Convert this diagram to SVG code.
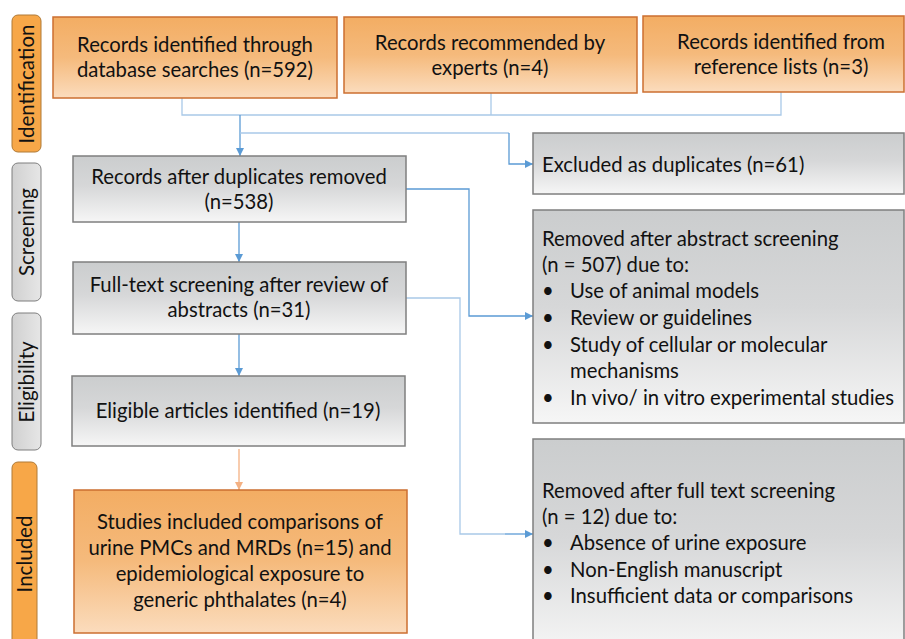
<svg xmlns="http://www.w3.org/2000/svg" width="905" height="639" viewBox="0 0 905 639">
<defs>
<linearGradient id="gOr" x1="0" y1="0" x2="0" y2="1">
<stop offset="0" stop-color="#f3ad63"/>
<stop offset="0.5" stop-color="#f5ba7c"/>
<stop offset="1" stop-color="#fbdcbd"/>
</linearGradient>
<linearGradient id="gGr" x1="0" y1="0" x2="0" y2="1">
<stop offset="0" stop-color="#cbcdce"/>
<stop offset="0.45" stop-color="#d6d7d8"/>
<stop offset="1" stop-color="#f6f6f6"/>
</linearGradient>
<linearGradient id="gLab" x1="0" y1="0" x2="1" y2="0">
<stop offset="0" stop-color="#d0d0d0"/>
<stop offset="1" stop-color="#e6e6e6"/>
</linearGradient>
<marker id="aB" viewBox="0 0 10 10" refX="10" refY="5" markerWidth="8" markerHeight="8" markerUnits="userSpaceOnUse" orient="auto">
<path d="M0,0 L10,5 L0,10 z" fill="#5b9bd5"/>
</marker>
<marker id="aO" viewBox="0 0 10 10" refX="10" refY="5" markerWidth="8" markerHeight="8" markerUnits="userSpaceOnUse" orient="auto">
<path d="M0,0 L10,5 L0,10 z" fill="#f4b183"/>
</marker>
</defs>
<style>
text{font-family:Lato,"Liberation Sans",sans-serif;font-size:20.3px;fill:#111}
.c{text-anchor:middle}
.or{fill:url(#gOr);stroke:#cc6f30;stroke-width:1.5}
.gr{fill:url(#gGr);stroke:#7f7f7f;stroke-width:1.5}
.lo{fill:#f7a748;stroke:#b07a36;stroke-width:1}
.lg{fill:url(#gLab);stroke:#7f7f7f;stroke-width:1}
.lab{font-size:20.5px;text-anchor:middle}
.ln{fill:none;stroke-width:1.3}
</style>
<rect width="905" height="639" fill="#ffffff"/>

<g id="connectors">
<polyline class="ln" stroke="#a9c9e8" points="182,98 182,115 781,115 781,92"/>
<line class="ln" stroke="#a9c9e8" x1="491" y1="93" x2="491" y2="115"/>
<line class="ln" stroke="#5b9bd5" x1="240" y1="115" x2="240" y2="156" marker-end="url(#aB)"/>
<polyline class="ln" stroke="#a9c9e8" points="240,133 509,133"/>
<polyline class="ln" stroke="#5b9bd5" points="509,133 509,164 533,164" marker-end="url(#aB)"/>
<line class="ln" stroke="#5b9bd5" x1="239" y1="222" x2="239" y2="262" marker-end="url(#aB)"/>
<polyline class="ln" stroke="#5b9bd5" points="406,189 469,189 469,316 533,316" marker-end="url(#aB)"/>
<line class="ln" stroke="#5b9bd5" x1="239" y1="334" x2="239" y2="376" marker-end="url(#aB)"/>
<polyline class="ln" stroke="#a9c9e8" points="406,298 460,298 460,534 505,534"/>
<line class="ln" stroke="#5b9bd5" x1="505" y1="534" x2="533" y2="534" marker-end="url(#aB)"/>
<line class="ln" stroke="#f4b183" x1="239" y1="449" x2="239" y2="490" marker-end="url(#aO)"/>
</g>

<g id="label-identification">
<rect class="lo" x="12" y="15" width="29" height="137" rx="6"/>
<text class="lab" transform="translate(34,84) rotate(-90)">Identification</text>
</g>
<g id="label-screening">
<rect class="lg" x="12" y="163" width="29" height="138" rx="6"/>
<text class="lab" transform="translate(34,232) rotate(-90)">Screening</text>
</g>
<g id="label-eligibility">
<rect class="lg" x="12" y="313" width="29" height="137" rx="6"/>
<text class="lab" transform="translate(34,382) rotate(-90)">Eligibility</text>
</g>
<g id="label-included">
<rect class="lo" x="12" y="462" width="25" height="190" rx="6"/>
<text class="lab" transform="translate(32,554) rotate(-90)">Included</text>
</g>

<g id="n-database">
<rect class="or" x="53" y="17" width="284" height="81"/>
<text class="c" x="195" y="52">Records identified through</text>
<text class="c" x="195" y="77">database searches (n=592)</text>
</g>
<g id="n-experts">
<rect class="or" x="344" y="17" width="293" height="76"/>
<text class="c" x="490" y="50">Records recommended by</text>
<text class="c" x="490" y="75">experts (n=4)</text>
</g>
<g id="n-reflists">
<rect class="or" x="643" y="16" width="261" height="76"/>
<text class="c" x="781" y="49">Records identified from</text>
<text class="c" x="781" y="74">reference lists (n=3)</text>
</g>
<g id="n-dupremoved">
<rect class="gr" x="73" y="156" width="333" height="66"/>
<text class="c" x="239" y="184">Records after duplicates removed</text>
<text class="c" x="239" y="209">(n=538)</text>
</g>
<g id="n-fulltext">
<rect class="gr" x="73" y="262" width="333" height="72"/>
<text class="c" x="239" y="292">Full-text screening after review of</text>
<text class="c" x="239" y="317">abstracts (n=31)</text>
</g>
<g id="n-eligible">
<rect class="gr" x="72" y="376" width="333" height="70"/>
<text class="c" x="238" y="418">Eligible articles identified (n=19)</text>
</g>
<g id="n-included">
<rect class="or" x="74" y="490" width="333" height="143"/>
<text class="c" x="240" y="529">Studies included comparisons of</text>
<text class="c" x="240" y="555">urine PMCs and MRDs (n=15) and</text>
<text class="c" x="240" y="581">epidemiological exposure to</text>
<text class="c" x="240" y="607">generic phthalates (n=4)</text>
</g>
<g id="n-excluded">
<rect class="gr" x="533" y="133" width="371" height="61"/>
<text x="542" y="172">Excluded as duplicates (n=61)</text>
</g>
<g id="n-abstract">
<rect class="gr" x="533" y="210" width="371" height="213"/>
<text x="542" y="246">Removed after abstract screening</text>
<text x="542" y="272">(n = 507) due to:</text>
<text x="542" y="298">•</text><text x="570" y="298">Use of animal models</text>
<text x="542" y="325">•</text><text x="570" y="325">Review or guidelines</text>
<text x="542" y="352">•</text><text x="570" y="352">Study of cellular or molecular</text>
<text x="570" y="378">mechanisms</text>
<text x="542" y="405">•</text><text x="570" y="405">In vivo/ in vitro experimental studies</text>
</g>
<g id="n-fulltextremoved">
<rect class="gr" x="533" y="439" width="371" height="215"/>
<text x="542" y="498">Removed after full text screening</text>
<text x="542" y="524">(n = 12) due to:</text>
<text x="542" y="550">•</text><text x="570" y="550">Absence of urine exposure</text>
<text x="542" y="577">•</text><text x="570" y="577">Non-English manuscript</text>
<text x="542" y="603">•</text><text x="570" y="603">Insufficient data or comparisons</text>
</g>
</svg>
